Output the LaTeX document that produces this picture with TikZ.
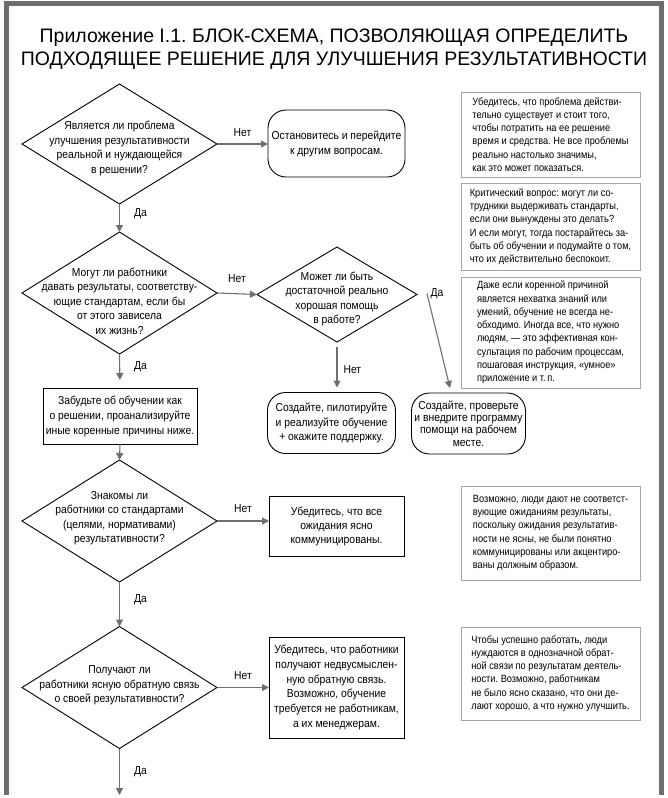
\documentclass[tikz,border=0pt]{standalone}
\usepackage{fontspec}
\setmainfont{Liberation Sans}[FakeStretch=0.9]
\newfontfamily\titlefont{Liberation Sans}
\newfontfamily\notefont{Liberation Sans}[FakeStretch=0.88]
\usetikzlibrary{arrows.meta,shapes.geometric,calc}
\definecolor{framegray}{HTML}{6E6E6E}
\definecolor{arrgray}{HTML}{6F6F6F}
\definecolor{notegray}{HTML}{A6A6A6}
\tikzset{
  dia/.style={draw, diamond, inner sep=0pt, outer sep=0pt, line width=0.9pt},
  dtext/.style={align=center, inner sep=0pt, font=\fontsize{11.5}{14.5}\selectfont},
  rbox/.style={draw, rounded corners=18pt, line width=0.9pt, align=center, inner sep=0pt, outer sep=0pt},
  sbox/.style={draw, line width=0.9pt, align=center, inner sep=0pt, outer sep=0pt},
  note/.style={draw=notegray, line width=0.9pt, align=left, inner sep=0pt, minimum width=179pt,
    font=\notefont\fontsize{10.5}{13.3}\selectfont},
  conn/.style={draw=arrgray, line width=1.1pt, -{Triangle[length=7pt,width=7pt]}},
  lbl/.style={font=\fontsize{11.5}{14}\selectfont, inner sep=0pt}
}
\begin{document}
\frenchspacing
\begin{tikzpicture}[x=1pt,y=-1pt]
\useasboundingbox (0,0) rectangle (668,798);
% frame
\draw[framegray, line width=5pt] (6.5,795) -- (6.5,3) -- (661.5,3) -- (661.5,795);
% title
\node[font=\titlefont\fontsize{19.5}{23}\selectfont, align=center, inner sep=0pt] (title) at (334,49)
  {Приложение I.1. БЛОК-СХЕМА, ПОЗВОЛЯЮЩАЯ ОПРЕДЕЛИТЬ\\ПОДХОДЯЩЕЕ РЕШЕНИЕ ДЛЯ УЛУЧШЕНИЯ РЕЗУЛЬТАТИВНОСТИ};

% diamonds
\node[dia, minimum width=195pt, minimum height=120pt] (d1) at (119.5,144) {};
\node[dtext] (d1t) at ($(d1)+(0,4.5)$) {Является ли проблема\\улучшения результативности\\реальной и нуждающейся\\в решении?};
\node[dia, minimum width=195pt, minimum height=122pt] (d2) at (119.5,293) {};
\node[dtext] (d2t) at ($(d2)+(0,8)$) {Могут ли работники\\давать результаты, соответству-\\ющие стандартам, если бы\\от этого зависела\\их жизнь?};
\node[dia, minimum width=160pt, minimum height=95pt] (d3) at (337,294.5) {};
\node[dtext] (d3t) at ($(d3)+(0,4.5)$) {Может ли быть\\достаточной реально\\хорошая помощь\\в работе?};
\node[dia, minimum width=195pt, minimum height=122pt] (d4) at (119.5,521) {};
\node[dtext] (d4t) at ($(d4)+(0,-3)$) {Знакомы ли\\работники со стандартами\\(целями, нормативами)\\результативности?};
\node[dia, minimum width=195pt, minimum height=122pt] (d5) at (119.5,687.5) {};
\node[dtext] (d5t) at ($(d5)+(0,-2)$) {Получают ли\\работники ясную обратную связь\\о своей результативности?};

% rounded boxes
\node[rbox, minimum width=137pt, minimum height=67pt, font=\fontsize{11.5}{15}\selectfont] (r1) at (336.5,143.5)
  {Остановитесь и перейдите\\к другим вопросам.};
\node[rbox, minimum width=128pt, minimum height=61pt, font=\fontsize{11.5}{14.5}\selectfont] (r2) at (331.5,423)
  {Создайте, пилотируйте\\и реализуйте обучение\\+ окажите поддержку.};
\node[rbox, minimum width=114pt, minimum height=61pt, font=\fontsize{11.5}{12.3}\selectfont] (r3) at (468.5,423.5)
  {Создайте, проверьте\\и внедрите программу\\помощи на рабочем\\месте.};

% square boxes
\node[sbox, minimum width=154pt, minimum height=56pt, font=\fontsize{11.5}{15}\selectfont] (b1) at (120,416)
  {Забудьте об обучении как\\о решении, проанализируйте\\иные коренные причины ниже.};
\node[sbox, minimum width=135pt, minimum height=60pt, font=\fontsize{11.5}{14}\selectfont] (b4) at (336.5,526)
  {Убедитесь, что все\\ожидания ясно\\коммуницированы.};
\node[sbox, minimum width=135pt, minimum height=101pt, font=\fontsize{11.5}{14.8}\selectfont] (b5) at (336.5,687.5)
  {Убедитесь, что работники\\получают недвусмыслен-\\ную обратную связь.\\Возможно, обучение\\требуется не работникам,\\а их менеджерам.};

% notes
\node[note, minimum height=85pt] (n1) at (550.5,134.5)
  {Убедитесь, что проблема действи-\\тельно существует и стоит того,\\чтобы потратить на ее решение\\время и средства. Не все проблемы\\реально настолько значимы,\\как это может показаться.};
\node[note, minimum height=87pt] (n2) at (550.5,226.5)
  {Критический вопрос: могут ли со-\\трудники выдерживать стандарты,\\если они вынуждены это делать?\\И если могут, тогда постарайтесь за-\\быть об обучении и подумайте о том,\\что их действительно беспокоит.};
\node[note, minimum height=111pt] (n3) at (550.5,332.5)
  {Даже если коренной причиной\\является нехватка знаний или\\умений, обучение не всегда не-\\обходимо. Иногда все, что нужно\\людям, — это эффективная кон-\\сультация по рабочим процессам,\\пошаговая инструкция, «умное»\\приложение и т.\,п.};
\node[note, minimum height=94pt] (n4) at (550.5,533)
  {Возможно, люди дают не соответст-\\вующие ожиданиям результаты,\\поскольку ожидания результатив-\\ности не ясны, не были понятно\\коммуницированы или акцентиро-\\ваны должным образом.};
\node[note, minimum height=93pt] (n5) at (550.5,673.5)
  {Чтобы успешно работать, люди\\нуждаются в однозначной обрат-\\ной связи по результатам деятель-\\ности. Возможно, работникам\\не было ясно сказано, что они де-\\лают хорошо, а что нужно улучшить.};

% connectors
\coordinate (dend) at (119.5,795);
\coordinate (d3start) at ($(d3.east)+(10,-1)$);
\coordinate (r3tip) at (450,388);

\draw[conn] (d1.east) -- (d1.east -| r1.west) node[lbl, midway, above=7pt] (l1) {Нет};
\draw[conn] (d1.south) -- (d2.north) node[lbl, pos=0.35, right=14pt] (l2) {Да};
\draw[conn] (d2.east) -- (d3.west) node[lbl, midway, above=11pt] (l3) {Нет};
\draw[conn, shorten <=5pt, shorten >=5pt] (d3.south) -- (d3.south |- r2.north) node[lbl, pos=0.55, right=6pt] (l4) {Нет};
\draw[conn] (d3start) -- (r3tip) node[lbl, pos=0, anchor=west, xshift=3pt] (l5) {Да};
\draw[conn, shorten >=8pt] (d2.south) -- (b1.north) node[lbl, pos=0.36, right=14pt] (l6) {Да};
\draw[conn] (b1.south) -- (d4.north);
\draw[conn] (d4.east) -- (d4.east -| b4.west) node[lbl, midway, above=8pt] (l7) {Нет};
\draw[conn] (d4.south) -- (d5.north) node[lbl, pos=0.4, right=14pt] (l8) {Да};
\draw[conn] (d5.east) -- (d5.east -| b5.west) node[lbl, midway, above=7pt] (l9) {Нет};
\draw[conn] (d5.south) -- (dend) node[lbl, pos=0.5, right=14pt] (l10) {Да};
\end{tikzpicture}
\end{document}
